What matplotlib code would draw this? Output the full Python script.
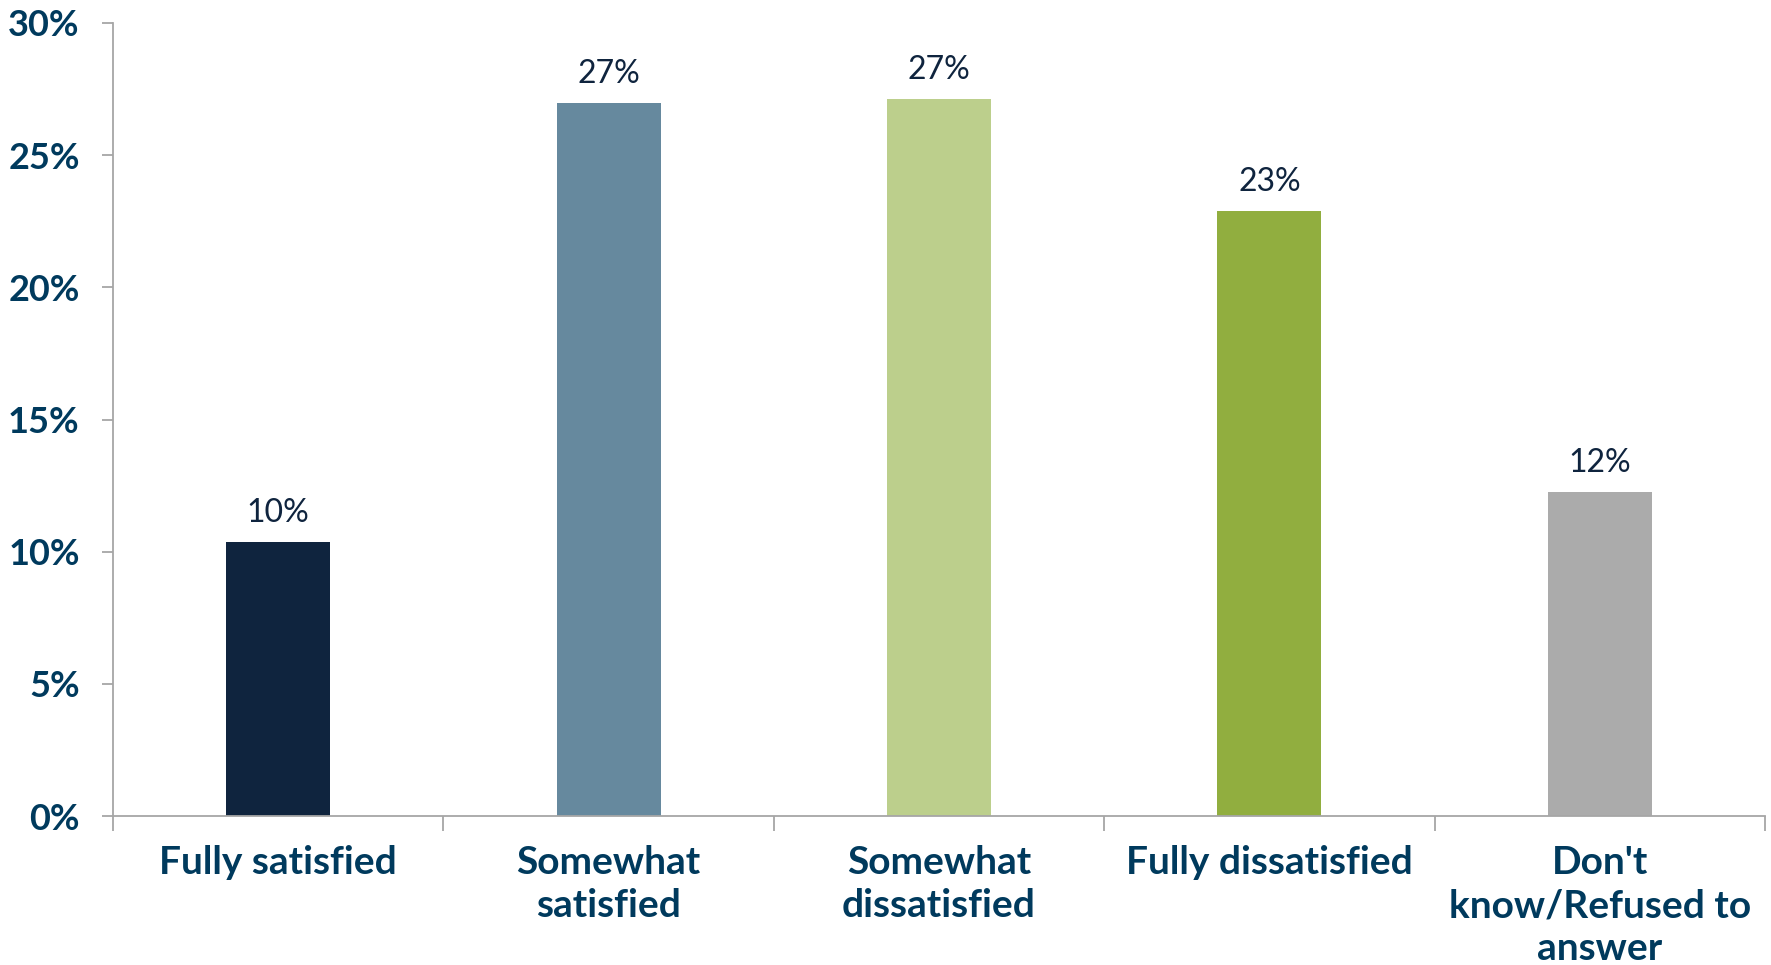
import matplotlib
matplotlib.use("Agg")
import matplotlib.pyplot as plt
import numpy as np

categories = ["Fully satisfied", "Somewhat\nsatisfied", "Somewhat\ndissatisfied",
              "Fully dissatisfied", "Don't\nknow/Refused to\nanswer"]
values = [10.37, 26.98, 27.13, 22.9, 12.24]
labels = ["10%", "27%", "27%", "23%", "12%"]
colors = ["#0F243E", "#66899E", "#BCCF8C", "#91AE3F", "#ABABAB"]
yticks = [0, 5, 10, 15, 20, 25, 30]

fig = plt.figure(figsize=(17.71, 9.65), dpi=100)
ax = fig.add_axes([113/1771, 1-816/965, (1765-113)/1771, (816-23)/965])

x = np.arange(len(categories))
ax.bar(x, values, width=0.315, color=colors, zorder=2)
for xi, v, lab in zip(x, values, labels):
    ax.annotate(lab, (xi, v), xytext=(0, 14), textcoords="offset pixels",
                ha="center", va="bottom", fontsize=23, color="#0F243E",
                family="Lato")

ax.set_xlim(-0.5, len(categories) - 0.5)
ax.set_ylim(0, 30)
ax.set_yticks(yticks)
ax.set_yticklabels([f"{t}%" for t in yticks])
ax.set_xticks(x)
ax.set_xticklabels(categories)
ax.set_xticks(np.arange(len(categories) + 1) - 0.5, minor=True)

for s in ["top", "right"]:
    ax.spines[s].set_visible(False)
for s in ["left", "bottom"]:
    ax.spines[s].set_color("#A6A6A6")
    ax.spines[s].set_linewidth(1.3)

ax.tick_params(axis="x", which="major", length=0, pad=21)
ax.tick_params(axis="x", which="minor", length=11, color="#A6A6A6", width=1.3, direction="out")
ax.tick_params(axis="y", length=8, color="#A6A6A6", width=1.3, direction="out", pad=16)

for t in ax.get_xticklabels():
    t.set_fontsize(28)
    t.set_fontweight("bold")
    t.set_color("#003A5D")
    t.set_family("Lato")
    t.set_linespacing(1.28)
for t in ax.get_yticklabels():
    t.set_fontsize(26)
    t.set_fontweight("bold")
    t.set_color("#003A5D")
    t.set_family("Lato")

fig.savefig("out.png", dpi=100)
